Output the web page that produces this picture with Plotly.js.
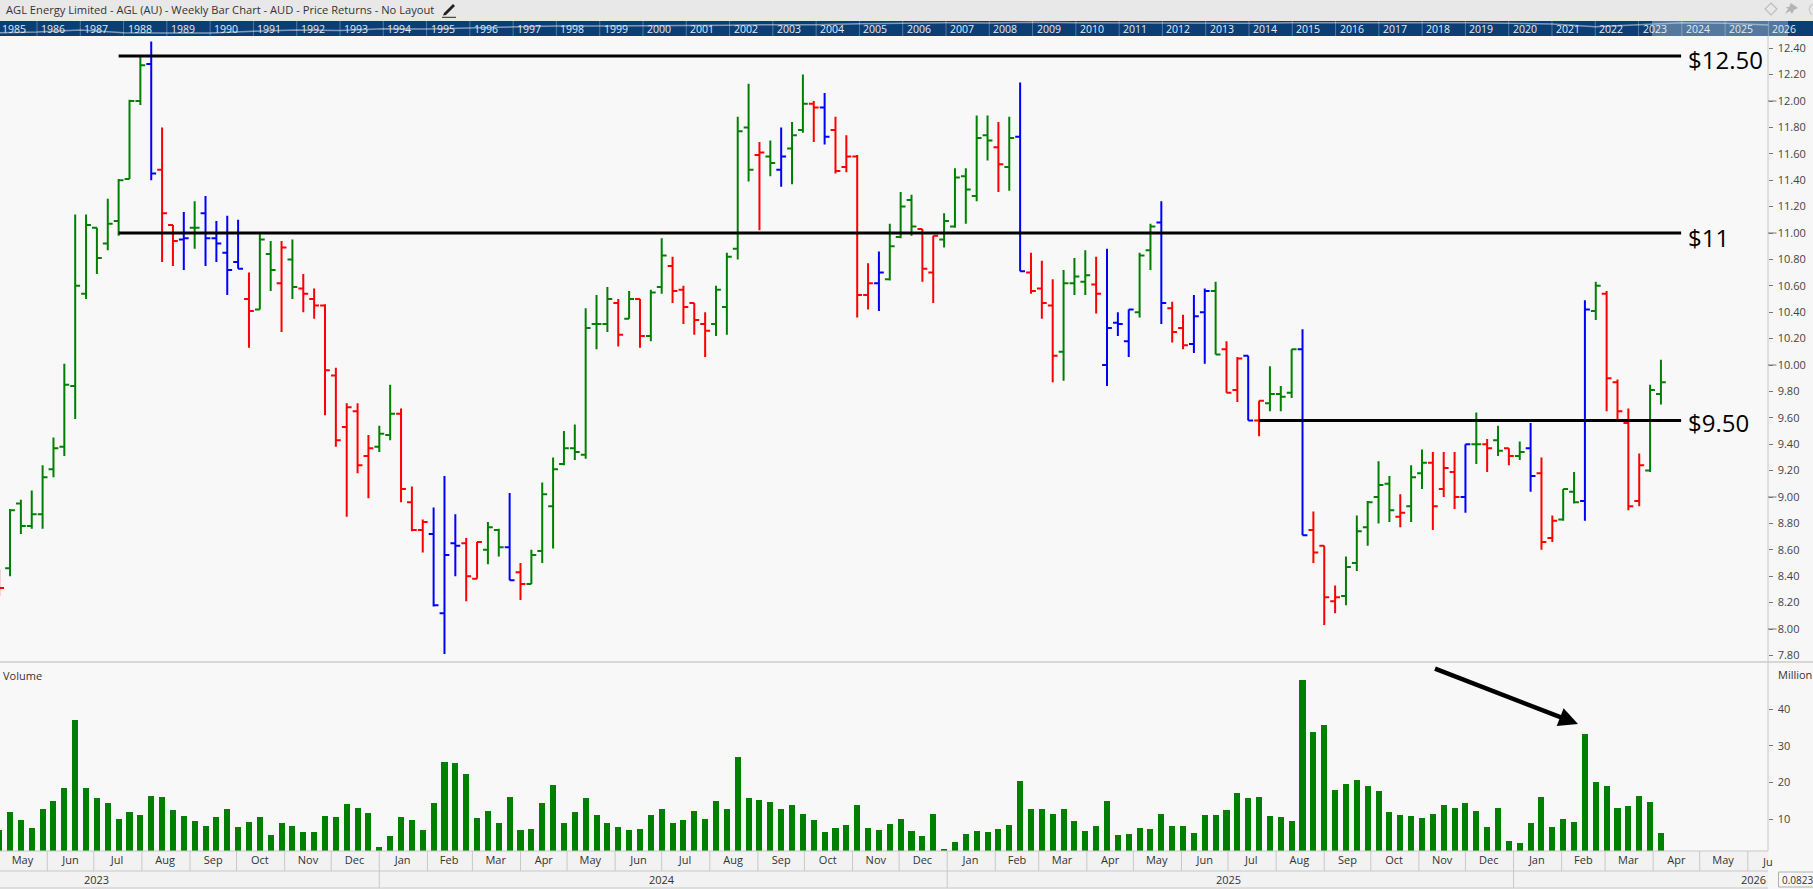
<!DOCTYPE html>
<html><head><meta charset="utf-8">
<script src="https://cdn.plot.ly/plotly-3.0.1.min.js"></script>
<style>html,body{margin:0;padding:0;overflow:hidden;background:#f7f7f7}#c{width:1813px;height:889px}</style>
</head><body><div id="c"></div>
<script>
const weekDates=["2023-05-01","2023-05-08","2023-05-15","2023-05-22","2023-05-29","2023-06-05","2023-06-12","2023-06-19","2023-06-26","2023-07-03","2023-07-10","2023-07-17","2023-07-24","2023-07-31","2023-08-07","2023-08-14","2023-08-21","2023-08-28","2023-09-04","2023-09-11","2023-09-18","2023-09-25","2023-10-02","2023-10-09","2023-10-16","2023-10-23","2023-10-30","2023-11-06","2023-11-13","2023-11-20","2023-11-27","2023-12-04","2023-12-11","2023-12-18","2023-12-25",
"2024-01-01","2024-01-08","2024-01-15","2024-01-22","2024-01-29","2024-02-05","2024-02-12","2024-02-19","2024-02-26","2024-03-04","2024-03-11","2024-03-18","2024-03-25","2024-04-01","2024-04-08","2024-04-15","2024-04-22","2024-04-29","2024-05-06","2024-05-13","2024-05-20","2024-05-27","2024-06-03","2024-06-10","2024-06-17","2024-06-24","2024-07-01","2024-07-08","2024-07-15","2024-07-22","2024-07-29","2024-08-05","2024-08-12","2024-08-19","2024-08-26","2024-09-02","2024-09-09","2024-09-16","2024-09-23","2024-09-30","2024-10-07","2024-10-14","2024-10-21","2024-10-28","2024-11-04","2024-11-11","2024-11-18","2024-11-25","2024-12-02","2024-12-09","2024-12-16","2024-12-23","2024-12-30",
"2025-01-06","2025-01-13","2025-01-20","2025-01-27","2025-02-03","2025-02-10","2025-02-17","2025-02-24","2025-03-03","2025-03-10","2025-03-17","2025-03-24","2025-03-31","2025-04-07","2025-04-14","2025-04-21","2025-04-28","2025-05-05","2025-05-12","2025-05-19","2025-05-26","2025-06-02","2025-06-09","2025-06-16","2025-06-23","2025-06-30","2025-07-07","2025-07-14","2025-07-21","2025-07-28","2025-08-04","2025-08-11","2025-08-18","2025-08-25","2025-09-01","2025-09-08","2025-09-15","2025-09-22","2025-09-29","2025-10-06","2025-10-13","2025-10-20","2025-10-27","2025-11-03","2025-11-10","2025-11-17","2025-11-24","2025-12-01","2025-12-08","2025-12-15","2025-12-22","2025-12-29",
"2026-01-05","2026-01-12","2026-01-19","2026-01-26","2026-02-02","2026-02-09","2026-02-16","2026-02-23","2026-03-02","2026-03-09","2026-03-16","2026-03-23","2026-03-30","2026-04-06"];
const highs=[8.45,8.91,8.98,9.05,9.24,9.45,10.01,11.14,11.14,11.04,11.26,11.41,12.01,12.34,12.45,11.80,11.06,11.16,11.24,11.28,11.09,11.13,11.10,10.70,10.99,10.94,10.94,10.95,10.69,10.58,10.46,9.98,9.71,9.71,9.47,9.54,9.85,9.67,9.08,8.83,8.92,9.16,8.87,8.69,8.66,8.81,8.76,9.03,8.50,8.60,9.11,9.30,9.50,9.55,10.43,10.53,
10.59,10.50,10.56,10.50,10.57,10.96,10.82,10.60,10.47,10.40,10.60,10.85,11.88,12.13,11.69,11.70,11.80,11.84,12.20,12.00,12.06,11.88,11.74,11.59,10.77,10.86,11.07,11.31,11.29,11.03,10.98,11.15,11.49,11.49,11.89,11.89,11.84,11.88,12.14,10.85,10.79,10.65,10.72,10.81,10.87,10.82,10.88,10.40,10.42,10.85,11.07,11.24,10.48,10.38,10.53,
10.58,10.63,10.18,10.06,10.07,9.73,9.99,9.84,10.12,10.27,8.89,8.63,8.33,8.55,8.86,8.97,9.27,9.16,9.02,9.24,9.36,9.34,9.34,9.34,9.40,9.64,9.44,9.54,9.37,9.42,9.56,9.30,8.86,9.06,9.19,10.49,10.63,10.56,9.89,9.67,9.33,9.85,10.04];
const lows=[8.25,8.40,8.72,8.76,8.76,9.15,9.31,9.59,10.50,10.69,10.87,10.98,11.41,11.97,11.40,10.78,10.75,10.72,10.88,10.75,10.78,10.53,10.73,10.13,10.42,10.56,10.25,10.50,10.40,10.35,9.62,9.38,8.85,9.18,8.99,9.34,9.43,8.96,8.74,8.58,8.17,7.81,8.40,8.21,8.38,8.49,8.55,8.37,8.22,8.34,8.50,8.61,9.24,9.28,9.29,10.12,
10.25,10.14,10.35,10.13,10.18,10.54,10.47,10.31,10.23,10.06,10.22,10.23,10.80,11.39,11.02,11.43,11.35,11.37,11.76,11.69,11.67,11.45,11.46,10.36,10.42,10.41,10.64,10.96,10.98,10.63,10.47,10.89,11.04,11.07,11.24,11.55,11.31,11.32,10.71,10.54,10.35,9.87,9.88,10.53,10.53,10.39,9.84,10.22,10.06,10.36,10.72,10.31,10.17,10.12,10.09,
10.01,10.08,9.79,9.72,9.58,9.46,9.65,9.65,9.75,8.71,8.50,8.03,8.12,8.18,8.44,8.63,8.80,8.81,8.77,8.81,9.06,8.75,9.00,8.91,8.88,9.25,9.19,9.31,9.24,9.28,9.04,8.60,8.66,8.82,8.95,8.82,10.34,9.65,9.58,8.90,8.93,9.19,9.70];
const opens=[8.35,8.46,8.95,8.78,8.87,9.21,9.38,9.84,10.54,11.04,10.92,11.09,11.41,12.00,12.28,11.48,11.06,10.95,11.04,11.15,10.96,10.85,10.78,10.50,10.42,10.84,10.62,10.80,10.58,10.50,10.45,9.92,9.53,9.65,9.31,9.38,9.47,9.63,8.96,8.75,8.72,8.12,8.65,8.65,8.38,8.60,8.75,8.62,8.43,8.34,8.59,8.93,9.25,9.37,9.32,10.31,
10.31,10.47,10.35,10.50,10.22,10.59,10.75,10.57,10.47,10.31,10.31,10.44,10.88,11.80,11.59,11.58,11.48,11.64,11.78,11.98,11.95,11.78,11.50,11.58,10.53,10.62,10.65,10.97,11.25,11.03,10.70,10.95,11.05,11.43,11.28,11.74,11.65,11.50,11.73,10.70,10.58,10.45,10.10,10.62,10.63,10.61,10.00,10.32,10.18,10.40,10.87,11.08,10.43,10.28,10.16,
10.40,10.56,10.12,9.81,10.07,9.58,9.71,9.78,9.79,10.12,8.75,8.63,8.21,8.25,8.50,8.77,9.00,9.10,8.85,8.93,9.18,9.26,9.06,9.19,9.00,9.40,9.40,9.43,9.37,9.31,9.37,9.18,8.69,8.83,9.04,8.97,10.41,10.54,9.87,9.56,8.97,9.20,9.78];
const closes=[8.31,8.90,8.78,8.87,9.15,9.37,9.85,10.60,11.06,10.81,11.07,11.40,12.00,12.27,11.45,11.15,10.94,10.96,11.04,10.96,10.92,10.72,10.73,10.41,10.95,10.72,10.89,10.59,10.54,10.45,9.96,9.43,9.68,9.24,9.37,9.48,9.63,9.06,8.75,8.81,8.18,8.56,8.63,8.40,8.66,8.77,8.62,8.37,8.34,8.56,9.02,9.21,9.37,9.34,10.28,10.31,
10.50,10.23,10.50,10.22,10.55,10.83,10.56,10.44,10.34,10.26,10.57,10.82,11.77,11.48,11.61,11.53,11.58,11.74,11.98,11.95,11.73,11.47,11.58,10.53,10.62,10.70,10.90,11.20,11.05,10.73,10.98,11.09,11.42,11.33,11.72,11.70,11.52,11.72,10.71,10.56,10.47,10.07,10.62,10.67,10.68,10.54,10.28,10.31,10.42,10.83,11.05,10.47,10.25,10.15,10.37,
10.56,10.08,9.79,10.05,9.58,9.73,9.78,9.76,10.12,8.71,8.58,8.24,8.24,8.47,8.74,8.96,9.09,8.90,8.88,9.15,9.26,8.93,9.22,9.00,9.40,9.40,9.37,9.35,9.31,9.34,9.16,8.66,8.82,9.06,8.96,10.42,10.60,9.90,9.65,8.93,9.24,9.81,9.87];
const barKinds=["R","G","G","G","G","G","G","G","G","G","G","G","G","G","B","R","R","B","G","B","B","B","B","R","G","G","R","G","R","R","R","R","R","R","R","G","G","R","R","R","B","B","B","R","R","G","G","B","R","G","G","G","G","G","G","G",
"G","R","G","R","G","G","R","R","R","R","G","G","G","G","R","G","B","G","G","R","B","R","R","R","R","B","G","G","G","R","R","G","G","G","G","G","R","G","B","R","R","R","G","G","G","R","B","B","B","G","G","B","R","R","B",
"B","G","R","R","B","R","G","G","G","B","R","R","R","G","G","G","G","G","R","G","G","R","R","R","B","G","R","G","R","G","B","R","R","G","G","B","G","R","R","R","R","G","G"];
const volumes=[7.0,11.9,9.7,7.6,12.7,14.9,18.5,37.0,18.5,15.7,14.4,10.0,11.9,11.1,16.3,16.0,12.5,10.8,9.5,8.1,10.6,12.7,7.8,9.2,10.6,5.6,8.9,8.1,6.5,6.5,10.8,10.6,14.1,13.0,11.6,2.4,5.4,10.6,9.7,7.0,14.4,25.6,25.3,22.3,10.3,12.2,8.9,16.0,7.0,7.3,14.4,19.3,8.9,11.9,15.7,11.1,8.9,7.8,
7.0,7.3,11.1,12.7,8.9,9.7,12.2,10.0,14.9,12.7,26.9,15.7,15.2,14.6,12.7,13.8,11.4,9.7,6.5,7.6,8.4,13.8,7.6,7.0,8.6,10.0,6.7,5.4,11.4,1.8,3.7,5.9,6.7,6.5,7.3,8.4,20.4,12.7,12.7,11.4,12.7,9.5,6.7,8.1,14.9,5.6,5.9,7.6,7.3,11.4,8.1,8.1,6.2,11.1,11.1,
12.5,17.1,15.7,16.0,10.8,10.6,9.5,47.9,33.7,35.6,17.9,19.6,20.6,19.0,17.6,11.9,11.1,10.8,10.3,11.4,13.8,13.0,14.4,12.2,7.8,13.0,4.0,3.5,8.9,16.0,7.8,10.0,9.2,33.2,20.1,19.0,13.0,13.6,16.3,14.6,6.2];
const priceTicks=[7.8,8.0,8.2,8.4,8.6,8.8,9.0,9.2,9.4,9.6,9.8,10.0,10.2,10.4,10.6,10.8,11.0,11.2,11.4,11.6,11.8,12.0,12.2,12.4];
const majorPriceTicks=[8,9,10,11,12];
const volumeTicks=[10,20,30,40];
const monthStarts=["2023-06-01","2023-07-01","2023-08-01","2023-09-01","2023-10-01","2023-11-01","2023-12-01","2024-01-01","2024-02-01","2024-03-01","2024-04-01","2024-05-01","2024-06-01","2024-07-01","2024-08-01","2024-09-01","2024-10-01","2024-11-01","2024-12-01","2025-01-01","2025-02-01","2025-03-01","2025-04-01","2025-05-01","2025-06-01","2025-07-01","2025-08-01","2025-09-01","2025-10-01","2025-11-01","2025-12-01","2026-01-01","2026-02-01","2026-03-01","2026-04-01","2026-05-01","2026-06-01"];
const monthMids=["2023-05-16","2023-06-16","2023-07-16","2023-08-16","2023-09-16","2023-10-16","2023-11-16","2023-12-16","2024-01-16","2024-02-15","2024-03-16","2024-04-16","2024-05-16","2024-06-16","2024-07-16","2024-08-16","2024-09-16","2024-10-16","2024-11-16","2024-12-16","2025-01-16","2025-02-15","2025-03-16","2025-04-16","2025-05-16","2025-06-16","2025-07-16","2025-08-16","2025-09-16","2025-10-16","2025-11-16","2025-12-16","2026-01-16","2026-02-15","2026-03-16","2026-04-16","2026-05-16"];
const monthNames=["May","Jun","Jul","Aug","Sep","Oct","Nov","Dec","Jan","Feb","Mar","Apr","May","Jun","Jul","Aug","Sep","Oct","Nov","Dec","Jan","Feb","Mar","Apr","May","Jun","Jul","Aug","Sep","Oct","Nov","Dec","Jan","Feb","Mar","Apr","May"];
const yearStarts=["2024-01-01","2025-01-01","2026-01-01"];
const levelValues=[12.34,11.0,9.58];
const levelLabels=["$12.50","$11","$9.50"];
const levelStarts=["2023-07-17","2023-07-17","2025-07-21"];
const levelEnd="2026-04-19";
const overviewYears=[1985,1986,1987,1988,1989,1990,1991,1992,1993,1994,1995,1996,1997,1998,1999,2000,2001,2002,2003,2004,2005,2006,2007,2008,2009,2010,2011,2012,2013,2014,2015,2016,2017,2018,2019,2020,2021,2022,2023,2024,2025,2026];
const overviewValues=[3.0,4.0,6.0,3.3,3.0,3.0,4.7,6.0,5.5,7.3,7.0,8.0,9.0,10.0,10.0,10.0,10.3,10.7,11.3,11.3,12.3,13.0,13.3,13.0,13.7,13.3,13.0,12.7,12.7,12.7,13.3,13.3,14.0,14.0,13.3,12.7,12.0,9.3,11.0,13.3,12.7,11.0];

const W=1813,H=889,AX=1768;
const fx=p=>p/W, fy=p=>1-p/H;
const FONT='"Open Sans",sans-serif';
const xr=['2023-05-01 13:00','2026-06-14 00:00'];
const COLORS={G:'#008000',R:'#ff0000',B:'#0000ff'};

const traces=[];
['G','R','B'].forEach(k=>{
  const idx=barKinds.map((c,i)=>c===k?i:-1).filter(i=>i>=0);
  const pick=a=>idx.map(i=>a[i]);
  traces.push({type:'ohlc',xaxis:'x',yaxis:'y',x:pick(weekDates),open:pick(opens),high:pick(highs),low:pick(lows),close:pick(closes),
    tickwidth:0.45,increasing:{line:{color:COLORS[k],width:2}},decreasing:{line:{color:COLORS[k],width:2}},hoverinfo:'skip',showlegend:false});
});
levelValues.forEach((v,i)=>traces.push({type:'scatter',mode:'lines',xaxis:'x',yaxis:'y',x:[levelStarts[i],levelEnd],y:[v,v],line:{color:'#000',width:3},hoverinfo:'skip',showlegend:false}));
traces.push({type:'bar',xaxis:'x2',yaxis:'y2',x:weekDates,y:volumes,width:3.9*86400000,marker:{color:'#008000',line:{width:0}},hoverinfo:'skip',showlegend:false});
traces.push({type:'scatter',mode:'lines',xaxis:'x3',yaxis:'y3',x:overviewYears,y:overviewValues,line:{color:'rgba(205,215,230,0.6)',width:1.5},hoverinfo:'skip',showlegend:false});

const rect=(x0,y0,x1,y1,fill,line)=>({type:'rect',xref:'paper',yref:'paper',x0:fx(x0),x1:fx(x1),y0:fy(y0),y1:fy(y1),fillcolor:fill,line:line||{width:0},layer:'below'});
const seg=(x0,y0,x1,y1,c,w)=>({type:'line',xref:'paper',yref:'paper',x0:fx(x0),x1:fx(x1),y0:fy(y0),y1:fy(y1),line:{color:c,width:w||1},layer:'above'});
const poly=(pts,fill,c,w)=>({type:'path',xref:'paper',yref:'paper',path:'M'+pts.map(p=>fx(p[0])+','+fy(p[1])).join('L')+'Z',fillcolor:fill,line:{color:c||fill,width:w===undefined?0:w},layer:'above'});

const shapes=[
  rect(0,0,W,21,'#e8e8e8'),
  rect(0,21,W,36,'#0b3e75'),
  rect(0,851,AX,889,'#f2f2f2'),
  rect(1652,21,1788,36,'rgba(255,255,255,0.3)'),
  seg(0,662,W,662,'#cccccc',1.5),
  seg(AX,36,AX,851,'#c8c8c8',1),
  seg(0,851,AX,851,'#c8c8c8',1),
  seg(0,871,AX,871,'#c8c8c8',1),
  seg(0,888,AX,888,'#c8c8c8',1),
  rect(1778.5,872,1815,887,'#f8f8f8',{color:'#b0b0b0',width:1}),
  // header icons
  poly([[444,13],[453,4],[455,6],[446,15],[443,15.5]],'#222'),
  poly([[442,16.8],[456,16.8],[456,17.8],[442,17.8]],'#222'),
  poly([[1771,3],[1777,9],[1771,15],[1765,9]],'rgba(0,0,0,0)','#bdbdbd',1.2),
  poly([[1791,3],[1798,8],[1794,10],[1792,14],[1790,11],[1785,14],[1788,9],[1786,7],[1789,7]],'#b4b4b4'),
  poly([[1811,5],[1816,5],[1816,14],[1811,14],[1809,9.5]],'rgba(0,0,0,0)','#c8c8c8',1.2)
];
majorPriceTicks.forEach(v=>shapes.push({type:'line',xref:'paper',yref:'y',x0:fx(AX),x1:fx(AX+8.5),y0:v,y1:v,line:{color:'#777',width:1},layer:'above'}));
monthStarts.forEach(d=>shapes.push({type:'line',xref:'x2',yref:'paper',x0:d,x1:d,y0:fy(851),y1:fy(871),line:{color:'#c8c8c8',width:1},layer:'above'}));
yearStarts.forEach(d=>shapes.push({type:'line',xref:'x2',yref:'paper',x0:d,x1:d,y0:fy(871),y1:fy(888),line:{color:'#c8c8c8',width:1},layer:'above'}));
overviewYears.forEach(y=>shapes.push({type:'line',xref:'x3',yref:'paper',x0:y,x1:y,y0:fy(21),y1:fy(36),line:{color:'rgba(255,255,255,0.3)',width:1},layer:'above'}));

const note=(text,x,y,size,color,anchor)=>({xref:'paper',yref:'paper',x:fx(x),y:fy(y),text,showarrow:false,xanchor:anchor||'left',yanchor:'middle',font:{family:FONT,size,color},borderpad:0});
const annotations=[
  note('AGL Energy Limited - AGL (AU) - Weekly Bar Chart - AUD - Price Returns - No Layout',5,9.5,11.15,'#333'),
  note('Volume',2,675,11,'#333'),
  note('Million',1777,674,11,'#333'),
  note('2023',96,879,11,'#333','center'),
  note('2024',662,879,11,'#333','center'),
  note('2025',1228.5,879,11,'#333','center'),
  note('2026',1753,879,11,'#333','center'),
  note('Ju',1761,861,11,'#333'),
  note('0.0823',1780.5,880,10,'#333')
];
[60,237,422].forEach((y,i)=>annotations.push(note(levelLabels[i],1686.5,y,24,'#000')));
overviewYears.forEach((y,i)=>annotations.push({xref:'x3',yref:'paper',x:y+(i===0?0.47:0.37),y:fy(28.5),text:String(y),showarrow:false,xanchor:'center',yanchor:'middle',font:{family:FONT,size:10.5,color:'#e6ecf2'}}));
annotations.push({xref:'paper',yref:'paper',axref:'paper',ayref:'paper',x:fx(1578),y:fy(724),ax:fx(1433.5),ay:fy(668),text:'',showarrow:true,arrowhead:2,arrowsize:0.85,arrowwidth:4.5,arrowcolor:'#000',standoff:0,startstandoff:0});

const layout={
  width:W,height:H,margin:{l:0,r:0,t:0,b:0,pad:0},paper_bgcolor:'#f7f7f7',plot_bgcolor:'#f8f8f8',dragmode:false,bargap:0,showlegend:false,
  xaxis:{domain:[0,fx(AX)],range:xr,type:'date',anchor:'y',matches:'x2',showticklabels:false,ticks:'',showgrid:false,zeroline:false,showline:false,rangeslider:{visible:false},fixedrange:true},
  xaxis2:{domain:[0,fx(AX)],range:xr,type:'date',anchor:'y2',tickmode:'array',tickvals:monthMids,ticktext:monthNames,ticks:'',ticklen:0,ticklabelstandoff:1,tickfont:{family:FONT,size:11,color:'#333'},showgrid:false,zeroline:false,showline:false,fixedrange:true},
  xaxis3:{domain:[0,1],range:[1985.145,2027.03],anchor:'y3',visible:false,fixedrange:true},
  yaxis:{domain:[fy(662),fy(36)],range:[7.75,12.4924],side:'right',anchor:'x',tickmode:'array',tickvals:priceTicks,ticktext:priceTicks.map(v=>v.toFixed(2)),ticks:'outside',ticklen:3.5,tickwidth:1,tickcolor:'#777',ticklabelstandoff:3,tickfont:{family:FONT,size:11,color:'#444'},showgrid:false,zeroline:false,showline:false,fixedrange:true},
  yaxis2:{domain:[fy(851),fy(662)],range:[1.28,52.82],side:'right',anchor:'x2',tickmode:'array',tickvals:volumeTicks,ticktext:volumeTicks.map(String),ticks:'outside',ticklen:3.5,tickwidth:1,tickcolor:'#777',ticklabelstandoff:3,tickfont:{family:FONT,size:11,color:'#444'},showgrid:false,zeroline:false,showline:false,fixedrange:true},
  yaxis3:{domain:[fy(36),fy(21)],range:[0,15],anchor:'x3',visible:false,fixedrange:true},
  shapes,annotations
};
Plotly.newPlot('c',traces,layout,{displayModeBar:false,staticPlot:true,responsive:false});
</script></body></html>
